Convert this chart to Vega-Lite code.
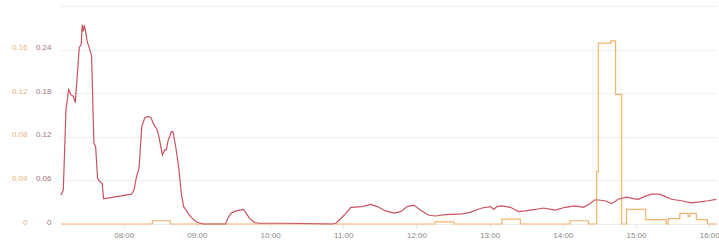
{
  "$schema": "https://vega.github.io/schema/vega-lite/v6.json",
  "autosize": {"type": "none"},
  "width": 656,
  "height": 218,
  "padding": {"left": 61, "top": 6, "right": 2, "bottom": 21},
  "background": "white",
  "config": {
    "view": {"stroke": null},
    "axis": {"labelFont": "Liberation Sans", "labelFontSize": 8, "domain": false}
  },
  "resolve": {"scale": {"y": "independent"}},
  "layer": [
    {
      "data": {"values": [
        {"t": "2024-01-01T07:08:36Z", "v": 0},
        {"t": "2024-01-01T08:23:33Z", "v": 0.003},
        {"t": "2024-01-01T08:38:16Z", "v": 0},
        {"t": "2024-01-01T12:15:05Z", "v": 0.002},
        {"t": "2024-01-01T12:30:37Z", "v": 0},
        {"t": "2024-01-01T13:10:05Z", "v": 0.0045},
        {"t": "2024-01-01T13:25:08Z", "v": 0},
        {"t": "2024-01-01T14:05:59Z", "v": 0.003},
        {"t": "2024-01-01T14:20:57Z", "v": 0},
        {"t": "2024-01-01T14:27:44Z", "v": 0.048},
        {"t": "2024-01-01T14:29:07Z", "v": 0.166},
        {"t": "2024-01-01T14:39:30Z", "v": 0.168},
        {"t": "2024-01-01T14:43:16Z", "v": 0.119},
        {"t": "2024-01-01T14:48:10Z", "v": 0},
        {"t": "2024-01-01T14:52:15Z", "v": 0.0135},
        {"t": "2024-01-01T15:07:57Z", "v": 0.004},
        {"t": "2024-01-01T15:24:42Z", "v": 0},
        {"t": "2024-01-01T15:26:20Z", "v": 0.005},
        {"t": "2024-01-01T15:35:54Z", "v": 0.0098},
        {"t": "2024-01-01T15:42:41Z", "v": 0.007},
        {"t": "2024-01-01T15:44:19Z", "v": 0.0098},
        {"t": "2024-01-01T15:49:28Z", "v": 0.004},
        {"t": "2024-01-01T15:58:28Z", "v": 0},
        {"t": "2024-01-01T16:06:24Z", "v": 0}
      ]},
      "mark": {"type": "line", "interpolate": "step-after", "color": "#f4b36c", "strokeWidth": 1.2},
      "encoding": {
        "x": {
          "field": "t", "type": "temporal", "title": null,
          "scale": {"type": "utc", "domain": [1704092916000, 1704125184000], "nice": false},
          "axis": {
            "values": [1704096000000, 1704099600000, 1704103200000, 1704106800000, 1704110400000, 1704114000000, 1704117600000, 1704121200000, 1704124800000],
            "labelExpr": "utcFormat(datum.value, '%H:%M')",
            "grid": false, "ticks": true, "tickColor": "#e6e6e6", "tickSize": 4,
            "labelColor": "#8a8a8a", "labelPadding": 3, "labelFlush": false
          }
        },
        "y": {
          "field": "v", "type": "quantitative", "title": null,
          "scale": {"domain": [0, 0.2], "nice": false, "zero": true},
          "axis": {
            "orient": "left", "values": [0, 0.04, 0.08, 0.12, 0.16], "format": "~g",
            "grid": false, "ticks": false, "offset": 24, "labelPadding": 10,
            "labelColor": "#e8b47c", "labelBaseline": "alphabetic"
          }
        }
      }
    },
    {
      "data": {"values": [
        {"t": "2024-01-01T07:08:36Z", "v": 0.040},
        {"t": "2024-01-01T07:10:29Z", "v": 0.047},
        {"t": "2024-01-01T07:12:41Z", "v": 0.157},
        {"t": "2024-01-01T07:14:53Z", "v": 0.185},
        {"t": "2024-01-01T07:16:32Z", "v": 0.178},
        {"t": "2024-01-01T07:18:39Z", "v": 0.176},
        {"t": "2024-01-01T07:20:17Z", "v": 0.167},
        {"t": "2024-01-01T07:22:29Z", "v": 0.217},
        {"t": "2024-01-01T07:23:34Z", "v": 0.243},
        {"t": "2024-01-01T07:25:11Z", "v": 0.247},
        {"t": "2024-01-01T07:26:01Z", "v": 0.274},
        {"t": "2024-01-01T07:26:50Z", "v": 0.265},
        {"t": "2024-01-01T07:27:38Z", "v": 0.272},
        {"t": "2024-01-01T07:28:28Z", "v": 0.268},
        {"t": "2024-01-01T07:30:05Z", "v": 0.251},
        {"t": "2024-01-01T07:32:18Z", "v": 0.240},
        {"t": "2024-01-01T07:33:41Z", "v": 0.231},
        {"t": "2024-01-01T07:35:34Z", "v": 0.111},
        {"t": "2024-01-01T07:36:58Z", "v": 0.107},
        {"t": "2024-01-01T07:38:35Z", "v": 0.063},
        {"t": "2024-01-01T07:40:28Z", "v": 0.058},
        {"t": "2024-01-01T07:42:21Z", "v": 0.056},
        {"t": "2024-01-01T07:43:30Z", "v": 0.035},
        {"t": "2024-01-01T07:44:34Z", "v": 0.035},
        {"t": "2024-01-01T08:06:23Z", "v": 0.041},
        {"t": "2024-01-01T08:08:31Z", "v": 0.047},
        {"t": "2024-01-01T08:10:28Z", "v": 0.065},
        {"t": "2024-01-01T08:12:35Z", "v": 0.077},
        {"t": "2024-01-01T08:14:48Z", "v": 0.134},
        {"t": "2024-01-01T08:17:15Z", "v": 0.146},
        {"t": "2024-01-01T08:19:57Z", "v": 0.148},
        {"t": "2024-01-01T08:22:10Z", "v": 0.147},
        {"t": "2024-01-01T08:24:37Z", "v": 0.137},
        {"t": "2024-01-01T08:27:19Z", "v": 0.130},
        {"t": "2024-01-01T08:28:56Z", "v": 0.120},
        {"t": "2024-01-01T08:31:43Z", "v": 0.095},
        {"t": "2024-01-01T08:33:36Z", "v": 0.102},
        {"t": "2024-01-01T08:34:59Z", "v": 0.102},
        {"t": "2024-01-01T08:36:18Z", "v": 0.114},
        {"t": "2024-01-01T08:39:04Z", "v": 0.127},
        {"t": "2024-01-01T08:40:23Z", "v": 0.127},
        {"t": "2024-01-01T08:42:35Z", "v": 0.107},
        {"t": "2024-01-01T08:45:02Z", "v": 0.079},
        {"t": "2024-01-01T08:47:15Z", "v": 0.042},
        {"t": "2024-01-01T08:49:08Z", "v": 0.024},
        {"t": "2024-01-01T08:52:38Z", "v": 0.015},
        {"t": "2024-01-01T08:55:25Z", "v": 0.009},
        {"t": "2024-01-01T08:59:31Z", "v": 0.003},
        {"t": "2024-01-01T09:04:54Z", "v": 0},
        {"t": "2024-01-01T09:23:27Z", "v": 0},
        {"t": "2024-01-01T09:25:20Z", "v": 0.008},
        {"t": "2024-01-01T09:28:07Z", "v": 0.015},
        {"t": "2024-01-01T09:32:12Z", "v": 0.018},
        {"t": "2024-01-01T09:38:10Z", "v": 0.020},
        {"t": "2024-01-01T09:40:22Z", "v": 0.015},
        {"t": "2024-01-01T09:43:04Z", "v": 0.008},
        {"t": "2024-01-01T09:47:10Z", "v": 0.002},
        {"t": "2024-01-01T09:51:14Z", "v": 0.001},
        {"t": "2024-01-01T10:13:04Z", "v": 0.001},
        {"t": "2024-01-01T10:51:09Z", "v": 0},
        {"t": "2024-01-01T10:53:56Z", "v": 0.001},
        {"t": "2024-01-01T11:00:43Z", "v": 0.012},
        {"t": "2024-01-01T11:06:11Z", "v": 0.023},
        {"t": "2024-01-01T11:15:40Z", "v": 0.024},
        {"t": "2024-01-01T11:22:32Z", "v": 0.027},
        {"t": "2024-01-01T11:27:56Z", "v": 0.024},
        {"t": "2024-01-01T11:34:47Z", "v": 0.018},
        {"t": "2024-01-01T11:41:35Z", "v": 0.015},
        {"t": "2024-01-01T11:47:03Z", "v": 0.017},
        {"t": "2024-01-01T11:52:27Z", "v": 0.024},
        {"t": "2024-01-01T11:57:55Z", "v": 0.026},
        {"t": "2024-01-01T12:03:24Z", "v": 0.019},
        {"t": "2024-01-01T12:10:11Z", "v": 0.012},
        {"t": "2024-01-01T12:15:40Z", "v": 0.011},
        {"t": "2024-01-01T12:23:50Z", "v": 0.013},
        {"t": "2024-01-01T12:37:24Z", "v": 0.014},
        {"t": "2024-01-01T12:44:16Z", "v": 0.016},
        {"t": "2024-01-01T12:48:21Z", "v": 0.019},
        {"t": "2024-01-01T12:53:45Z", "v": 0.022},
        {"t": "2024-01-01T13:00:37Z", "v": 0.024},
        {"t": "2024-01-01T13:03:19Z", "v": 0.020},
        {"t": "2024-01-01T13:06:01Z", "v": 0.024},
        {"t": "2024-01-01T13:10:05Z", "v": 0.025},
        {"t": "2024-01-01T13:16:58Z", "v": 0.023},
        {"t": "2024-01-01T13:23:44Z", "v": 0.017},
        {"t": "2024-01-01T13:29:13Z", "v": 0.018},
        {"t": "2024-01-01T13:37:23Z", "v": 0.020},
        {"t": "2024-01-01T13:44:10Z", "v": 0.022},
        {"t": "2024-01-01T13:53:44Z", "v": 0.019},
        {"t": "2024-01-01T14:01:55Z", "v": 0.023},
        {"t": "2024-01-01T14:10:05Z", "v": 0.025},
        {"t": "2024-01-01T14:16:52Z", "v": 0.023},
        {"t": "2024-01-01T14:22:20Z", "v": 0.028},
        {"t": "2024-01-01T14:25:52Z", "v": 0.033},
        {"t": "2024-01-01T14:29:07Z", "v": 0.033},
        {"t": "2024-01-01T14:34:36Z", "v": 0.032},
        {"t": "2024-01-01T14:39:59Z", "v": 0.028},
        {"t": "2024-01-01T14:45:28Z", "v": 0.034},
        {"t": "2024-01-01T14:52:15Z", "v": 0.037},
        {"t": "2024-01-01T14:57:44Z", "v": 0.035},
        {"t": "2024-01-01T15:01:49Z", "v": 0.034},
        {"t": "2024-01-01T15:07:17Z", "v": 0.038},
        {"t": "2024-01-01T15:12:41Z", "v": 0.041},
        {"t": "2024-01-01T15:19:33Z", "v": 0.041},
        {"t": "2024-01-01T15:23:38Z", "v": 0.038},
        {"t": "2024-01-01T15:29:02Z", "v": 0.034},
        {"t": "2024-01-01T15:37:13Z", "v": 0.032},
        {"t": "2024-01-01T15:45:23Z", "v": 0.029},
        {"t": "2024-01-01T15:50:51Z", "v": 0.030},
        {"t": "2024-01-01T15:59:02Z", "v": 0.032},
        {"t": "2024-01-01T16:05:49Z", "v": 0.034}
      ]},
      "mark": {"type": "line", "interpolate": "linear", "color": "#c9535f", "strokeWidth": 1.2},
      "encoding": {
        "x": {"field": "t", "type": "temporal"},
        "y": {
          "field": "v", "type": "quantitative", "title": null,
          "scale": {"domain": [0, 0.3], "nice": false, "zero": true},
          "axis": {
            "orient": "left", "values": [0, 0.06, 0.12, 0.18, 0.24, 0.3], "format": "~g",
            "labelExpr": "datum.value >= 0.299 ? '' : datum.label",
            "grid": true, "gridColor": "#eeeeee", "gridWidth": 1, "ticks": false, "labelPadding": 10,
            "labelColor": "#a3727c", "labelBaseline": "alphabetic"
          }
        }
      }
    }
  ]
}
